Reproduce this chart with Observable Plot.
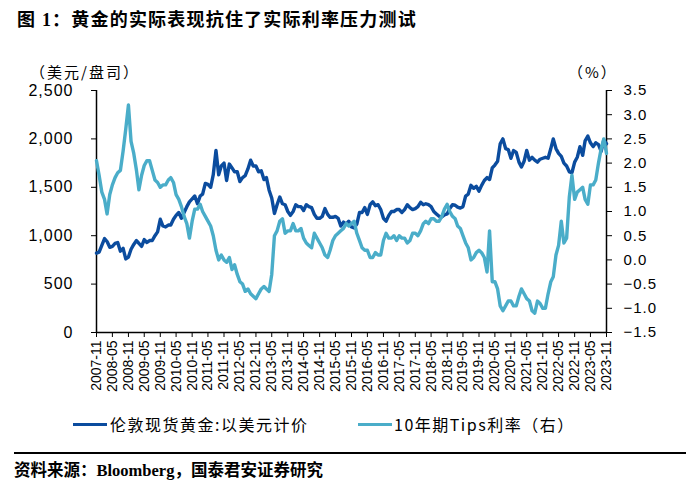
<!DOCTYPE html>
<html><head><meta charset="utf-8">
<script src="https://cdn.jsdelivr.net/npm/d3@7"></script>
<script src="https://cdn.jsdelivr.net/npm/@observablehq/plot@0.6"></script>
<style>
body{margin:0;background:#fff;}
#wrap{position:relative;width:700px;height:487px;overflow:hidden;font-family:"Noto Sans CJK SC",sans-serif;color:#000;}
.abs{position:absolute;white-space:nowrap;}
#title{left:17px;top:9px;font-size:18px;line-height:22px;font-weight:bold;letter-spacing:1.2px;font-family:"Liberation Serif","Noto Sans CJK SC",serif;}
#unitL{left:30px;top:64px;font-size:15px;line-height:15px;letter-spacing:2px;}
#unitR{left:568px;top:64px;font-size:15px;line-height:15px;letter-spacing:2px;}
#chart{left:0;top:0;}
#chart svg g[aria-label="y-axis tick label"] text{letter-spacing:1px;}
.lg-line{position:absolute;height:3px;}
.lg-text{font-size:16px;line-height:22px;letter-spacing:1.5px;}
#sep{left:14px;top:452px;width:672px;height:2px;background:#000;}
#caption{left:14px;top:461px;font-size:16.5px;line-height:20px;font-weight:bold;font-family:"Liberation Serif","Noto Sans CJK SC",serif;}
</style>
</head><body>
<div id="wrap">
  <div id="title" class="abs">图 1：黄金的实际表现抗住了实际利率压力测试</div>
  <div id="unitL" class="abs">（美元/盘司）</div>
  <div id="unitR" class="abs">（%）</div>
  <div id="chart" class="abs"></div>
  <div id="lg1" class="lg-line"></div>
  <div id="lgt1" class="abs lg-text"></div>
  <div id="lg2" class="lg-line"></div>
  <div id="lgt2" class="abs lg-text"></div>
  <div id="sep" class="abs"></div>
  <div id="caption" class="abs">资料来源：Bloomberg，国泰君安证券研究</div>
</div>
<script>
// ---- data (monthly, starting 2007-11) ----
const startMonth = "2007-11";
const seriesNames = ["伦敦现货黄金:以美元计价", "10年期Tips利率（右）"];
const gold = [
  820, 830,
  900, 970, 940, 880, 890, 920, 930, 840, 870, 760, 780, 860,
  910, 950, 920, 890, 960, 930, 950, 950, 1000, 1040, 1170, 1100,
  1090, 1110, 1110, 1170, 1210, 1240, 1180, 1240, 1300, 1350, 1380, 1410,
  1330, 1410, 1430, 1540, 1530, 1500, 1630, 1880, 1630, 1720, 1750, 1570,
  1740, 1700, 1660, 1660, 1560, 1600, 1620, 1690, 1780, 1720, 1720, 1660,
  1670, 1580, 1600, 1470, 1390, 1230, 1320, 1400, 1330, 1320, 1250, 1210,
  1250, 1320, 1300, 1300, 1260, 1320, 1300, 1290, 1220, 1180, 1180, 1200,
  1280, 1220, 1190, 1190, 1200, 1180, 1100, 1140, 1120, 1150, 1090, 1080,
  1120, 1240, 1240, 1290, 1220, 1320, 1350, 1310, 1320, 1270, 1180, 1150,
  1210, 1250, 1250, 1270, 1270, 1240, 1270, 1320, 1290, 1270, 1280, 1300,
  1345, 1320, 1330, 1320, 1300, 1250, 1225, 1200, 1195, 1215, 1225, 1280,
  1320, 1315, 1295, 1285, 1300, 1410, 1430, 1520, 1490, 1510, 1460, 1520,
  1570, 1600, 1580, 1700, 1730, 1770, 1950, 2000, 1900, 1890, 1800, 1880,
  1860, 1760, 1710, 1770, 1880, 1780, 1810, 1780, 1760, 1790, 1800, 1810,
  1800, 1900, 2000, 1900, 1850, 1820, 1750, 1720, 1660, 1650, 1760, 1810,
  1920, 1830, 1980, 2030, 1960, 1920, 1960, 1940, 1870, 1990, 1950
];
const tips = [
  2.05, 1.75,
  1.4, 1.25, 0.95, 1.35, 1.55, 1.7, 1.8, 1.85, 2.25, 2.7, 3.2, 2.45,
  2.2, 1.85, 1.45, 1.75, 1.95, 2.05, 2.05, 1.85, 1.65, 1.6, 1.5, 1.55,
  1.55, 1.65, 1.7, 1.6, 1.35, 1.25, 1.1, 0.9, 0.75, 0.45, 0.8, 1.05,
  1.05, 1.15, 1.0, 0.9, 0.8, 0.7, 0.5, 0.2, 0.0, 0.1, 0.0, -0.05,
  0.05, -0.2, -0.1, -0.3, -0.45, -0.5, -0.65, -0.6, -0.7, -0.75, -0.8, -0.7,
  -0.6, -0.55, -0.6, -0.65, -0.3, 0.5, 0.6, 0.8, 0.85, 0.55, 0.6, 0.6,
  0.75, 0.6, 0.6, 0.65, 0.45, 0.35, 0.3, 0.25, 0.55, 0.45, 0.35, 0.25,
  0.1, 0.05, 0.2, 0.4, 0.5, 0.55, 0.6, 0.65, 0.75, 0.7, 0.75, 0.8,
  0.55, 0.4, 0.25, 0.2, 0.2, 0.05, 0.05, 0.15, 0.1, 0.1, 0.4, 0.55,
  0.45, 0.45, 0.5, 0.4, 0.5, 0.45, 0.45, 0.35, 0.4, 0.55, 0.55, 0.5,
  0.6, 0.75, 0.8, 0.75, 0.85, 0.85, 0.8, 0.8, 0.9, 1.05, 1.15, 1.0,
  0.9, 0.85, 0.7, 0.65, 0.5, 0.35, 0.25, 0.0, 0.05, 0.15, 0.2, 0.15,
  0.05, -0.25, 0.6, -0.45, -0.45, -0.6, -0.95, -1.05, -0.95, -0.85, -0.85, -0.95,
  -0.95, -0.75, -0.6, -0.7, -0.8, -0.85, -1.05, -1.1, -0.85, -0.9, -1.0, -1.0,
  -0.7, -0.45, -0.35, 0.1, 0.3, 0.8, 0.35, 0.45, 1.3, 1.75, 1.25, 1.4,
  1.45, 1.5, 1.25, 1.15, 1.55, 1.55, 1.65, 2.0, 2.3, 2.5, 2.2
];
const xTickLabels = [
  "2007-11","2008-05","2008-11","2009-05","2009-11","2010-05","2010-11","2011-05","2011-11",
  "2012-05","2012-11","2013-05","2013-11","2014-05","2014-11","2015-05","2015-11","2016-05",
  "2016-11","2017-05","2017-11","2018-05","2018-11","2019-05","2019-11","2020-05","2020-11",
  "2021-05","2021-11","2022-05","2022-11","2023-05","2023-11"
];
const goldTicks = [0, 500, 1000, 1500, 2000, 2500];
const tipsTicks = [-1.5, -1.0, -0.5, 0.0, 0.5, 1.0, 1.5, 2.0, 2.5, 3.0, 3.5];
const colors = ["#0b4c9e", "#4aadc9"];

// ---- build ----
const parse = d3.utcParse("%Y-%m");
const t0 = parse(startMonth);
const goldData = gold.map((v, i) => ({date: d3.utcMonth.offset(t0, i), v}));
const tipsData = tips.map((v, i) => ({date: d3.utcMonth.offset(t0, i), v}));
const xTicks = xTickLabels.map(parse);
const xDomain = [xTicks[0], xTicks[xTicks.length - 1]];
const gMin = goldTicks[0], gMax = goldTicks[goldTicks.length - 1];
const tMin = tipsTicks[0], tMax = tipsTicks[tipsTicks.length - 1];
const toY = t => gMin + (t - tMin) / (tMax - tMin) * (gMax - gMin);
const fromY = y => tMin + (y - gMin) / (gMax - gMin) * (tMax - tMin);
const fmt1 = d3.format(".1f");
const labelOf = new Map(xTicks.map((d, i) => [+d, xTickLabels[i]]));

const chart = Plot.plot({
  width: 700, height: 400,
  marginLeft: 96, marginRight: 94, marginTop: 90, marginBottom: 68,
  x: {type: "utc", domain: xDomain},
  y: {domain: [gMin, gMax]},
  style: {fontFamily: "'Liberation Sans', Arial, sans-serif", color: "#000", background: "transparent"},
  marks: [
    Plot.axisX(xTicks, {tickRotate: -90, tickFormat: d => labelOf.get(+d), tickSize: 5, tickPadding: 3, fontSize: 14, label: null, stroke: "#000", fill: "#000"}),
    Plot.axisY(goldTicks, {anchor: "left", tickSize: 5, tickPadding: 18, tickFormat: d3.format(","), fontSize: 16, label: null, stroke: "#000", fill: "#000"}),
    Plot.axisY(tipsTicks.map(toY), {anchor: "right", tickSize: 5, tickPadding: 12, tickFormat: v => fmt1(fromY(v)), fontSize: 15, label: null, stroke: "#000", fill: "#000"}),
    Plot.ruleX([xDomain[0]], {stroke: "#000", strokeWidth: 1.5}),
    Plot.ruleX([xDomain[1]], {stroke: "#000", strokeWidth: 1.5}),
    Plot.ruleY([gMin], {stroke: "#000", strokeWidth: 1.5}),
    Plot.line(goldData, {x: "date", y: "v", stroke: colors[0], strokeWidth: 3.4}),
    Plot.line(tipsData, {x: "date", y: d => toY(d.v), stroke: colors[1], strokeWidth: 3.4})
  ]
});
document.getElementById("chart").appendChild(chart);

// legend
const lg1 = document.getElementById("lg1");
Object.assign(lg1.style, {left: "73px", top: "423px", width: "34px", background: colors[0]});
const lgt1 = document.getElementById("lgt1");
lgt1.textContent = seriesNames[0];
Object.assign(lgt1.style, {left: "110px", top: "413px"});
const lg2 = document.getElementById("lg2");
Object.assign(lg2.style, {left: "358px", top: "423px", width: "34px", background: colors[1]});
const lgt2 = document.getElementById("lgt2");
lgt2.textContent = seriesNames[1];
Object.assign(lgt2.style, {left: "394px", top: "413px"});
</script>
</body></html>
